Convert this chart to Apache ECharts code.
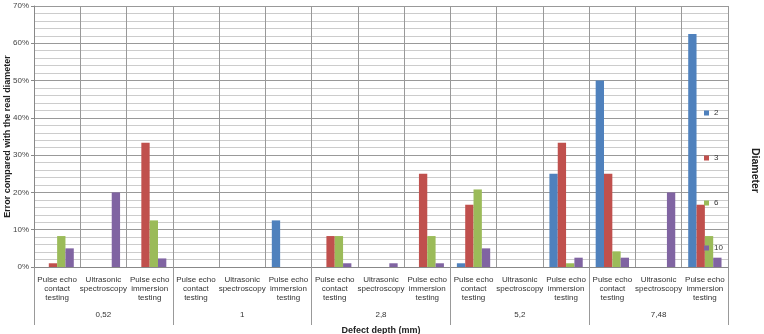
<!DOCTYPE html>
<html>
<head>
<meta charset="utf-8">
<script src="https://cdn.jsdelivr.net/npm/echarts@6/dist/echarts.min.js"></script>
<style>
  * { margin: 0; padding: 0; }
  body { background: #fff; }
</style>
</head>
<body>
<div id="main" style="width:764px;height:334px;"></div>
<script>
// categories
var depths = ["0,52", "1", "2,8", "5,2", "7,48"];
var methodNames = ["Pulse echo\ncontact\ntesting", "Ultrasonic\nspectroscopy", "Pulse echo\nimmersion\ntesting"];
var diameters = ["2", "3", "6", "10"];
// error (%) per depth x method, 15 values each
var d2  = [0, 0, 0,    0, 0, 12.5,  0, 0, 0,     1, 0, 25,      50, 0, 62.5];
var d3  = [1, 0, 33.3, 0, 0, 0,     8.3, 0, 25,  16.7, 0, 33.3, 25, 0, 16.7];
var d6  = [8.3, 0, 12.5, 0, 0, 0,   8.3, 0, 8.3, 20.8, 0, 1,    4.2, 0, 8.3];
var d10 = [5, 20, 2.3, 0, 0, 0,     1, 1, 1,     5, 0, 2.5,     2.5, 20, 2.5];
var colors = ["#4F81BD", "#C0504D", "#9BBB59", "#8064A2"];

var cats = [];
depths.forEach(function () {
  methodNames.forEach(function (m) { cats.push(m); });
});

var chart = echarts.init(document.getElementById("main"));
var font = "Liberation Sans, Arial, sans-serif";
var seriesData = [d2, d3, d6, d10];

chart.setOption({
  animation: false,
  color: colors,
  textStyle: { fontFamily: font },
  grid: { left: 34, right: 36, top: 6, bottom: 67, containLabel: false, outerBoundsMode: "none" },
  legend: {
    orient: "vertical",
    left: 699,
    top: 104,
    itemWidth: 5,
    itemHeight: 5,
    itemGap: 37,
    icon: "rect",
    data: diameters,
    textStyle: { fontSize: 8, color: "#333", fontFamily: font }
  },
  graphic: [{
    type: "text",
    left: 749,
    top: 148,
    rotation: -Math.PI / 2,
    style: { text: "Diameter", font: "bold 10.5px " + font, fill: "#222" }
  }],
  xAxis: [{
    type: "category",
    data: cats,
    position: "bottom",
    axisLine: { lineStyle: { color: "#888" } },
    axisTick: { show: false },
    axisLabel: { interval: 0, fontSize: 8, color: "#333", lineHeight: 9, margin: 8 },
    splitLine: { show: true, lineStyle: { color: "#999", width: 1 } }
  }, {
    type: "category",
    data: depths,
    position: "bottom",
    offset: 0,
    axisLine: { show: false },
    axisTick: { show: true, length: 58, lineStyle: { color: "#999" } },
    axisLabel: { fontSize: 8, color: "#333", margin: 44 },
    name: "Defect depth (mm)",
    nameLocation: "middle",
    nameGap: 59,
    nameMoveOverlap: false,
    nameTextStyle: { fontSize: 9, fontWeight: "bold", color: "#222" }
  }],
  yAxis: {
    type: "value",
    min: 0,
    max: 70,
    interval: 10,
    name: "Error compared with the real diameter",
    nameLocation: "middle",
    nameGap: 22,
    nameMoveOverlap: false,
    nameTextStyle: { fontSize: 9, fontWeight: "bold", color: "#222" },
    axisLine: { show: true, lineStyle: { color: "#888" } },
    axisTick: { show: true, length: 3, lineStyle: { color: "#888" } },
    axisLabel: { formatter: "{value}%", fontSize: 8, color: "#444", margin: 5 },
    splitLine: { lineStyle: { color: "#999" } },
    minorTick: { show: false, splitNumber: 5 },
    minorSplitLine: { show: true, lineStyle: { color: "#ccc" } }
  },
  series: diameters.map(function (d, i) {
    return {
      name: d,
      type: "bar",
      xAxisIndex: 0,
      data: seriesData[i],
      barGap: "0%",
      barCategoryGap: "28%"
    };
  })
});
</script>
</body>
</html>
